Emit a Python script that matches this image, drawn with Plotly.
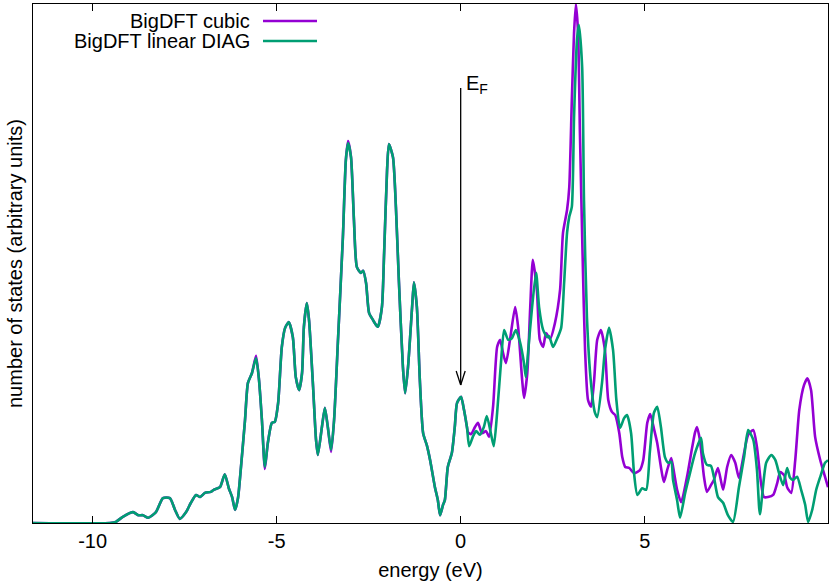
import plotly.graph_objects as go

# Shared low-energy part (both curves coincide), energy in eV, DOS in arbitrary units
energy_common = [-11.62, -9.53, -9.37, -9.18, -8.90, -8.76, -8.63, -8.49, -8.28, -8.09, -7.90, -7.76,
                 -7.63, -7.46, -7.33, -7.19, -7.08, -6.95, -6.79, -6.71, -6.54, -6.41, -6.30, -6.21,
                 -6.13, -6.05, -6.00, -5.86, -5.78, -5.67, -5.56, -5.48, -5.40, -5.32, -5.24, -5.13,
                 -5.05, -4.96, -4.86, -4.77, -4.67, -4.56, -4.48, -4.39, -4.31, -4.26, -4.18, -4.12,
                 -4.01, -3.93, -3.88, -3.77, -3.69, -3.61, -3.52, -3.44, -3.33, -3.20, -3.12, -3.06,
                 -2.98, -2.90, -2.82, -2.71, -2.65, -2.57, -2.49, -2.38, -2.33, -2.25, -2.14, -2.08,
                 -2.00, -1.95, -1.84, -1.76, -1.68, -1.57, -1.51, -1.43, -1.32, -1.27, -1.19, -1.11,
                 -1.02, -0.92, -0.83, -0.70, -0.62, -0.56, -0.48, -0.43, -0.35, -0.24, -0.16, -0.10,
                 0.01, 0.09, 0.17]
dos_common = [0.0, 0.0, 0.002, 0.012, 0.021, 0.015, 0.015, 0.010, 0.021, 0.048, 0.048, 0.025,
              0.008, 0.021, 0.039, 0.054, 0.050, 0.058, 0.060, 0.064, 0.069, 0.094, 0.067, 0.050,
              0.025, 0.048, 0.083, 0.198, 0.270, 0.289, 0.318, 0.276, 0.198, 0.108, 0.154, 0.193,
              0.195, 0.231, 0.339, 0.376, 0.387, 0.358, 0.281, 0.256, 0.289, 0.378, 0.424, 0.391,
              0.262, 0.160, 0.131, 0.185, 0.222, 0.185, 0.141, 0.198, 0.358, 0.551, 0.699, 0.732,
              0.705, 0.584, 0.493, 0.482, 0.486, 0.462, 0.405, 0.391, 0.385, 0.378, 0.416, 0.520,
              0.680, 0.730, 0.705, 0.609, 0.468, 0.301, 0.250, 0.301, 0.416, 0.464, 0.416, 0.276,
              0.173, 0.150, 0.121, 0.069, 0.044, 0.015, 0.035, 0.044, 0.108, 0.135, 0.185, 0.231,
              0.243, 0.218, 0.185]

# BigDFT cubic (above 0.17 eV)
energy_cubic_hi = [0.20, 0.28, 0.39, 0.47, 0.58, 0.69, 0.77, 0.88, 0.99, 1.07, 1.15, 1.23, 1.34, 1.48,
                   1.56, 1.67, 1.72, 1.81, 1.89, 1.96, 2.07, 2.15, 2.24, 2.32, 2.43, 2.56, 2.70, 2.78,
                   2.89, 2.95, 3.02, 3.08, 3.13, 3.19, 3.24, 3.32, 3.38, 3.46, 3.54, 3.62, 3.71, 3.81,
                   3.92, 4.01, 4.11, 4.20, 4.31, 4.39, 4.47, 4.58, 4.71, 4.87, 4.96, 5.07, 5.15, 5.26,
                   5.34, 5.44, 5.52, 5.61, 5.72, 5.80, 5.88, 5.99, 6.15, 6.29, 6.37, 6.42, 6.50, 6.61,
                   6.69, 6.80, 6.88, 6.99, 7.13, 7.24, 7.35, 7.46, 7.56, 7.70, 7.81, 7.95, 8.05, 8.16,
                   8.24, 8.35, 8.49, 8.60, 8.68, 8.79, 8.87, 8.98, 9.09, 9.20, 9.33, 9.42, 9.52, 9.63,
                   9.77, 9.90, 9.98]
dos_cubic_hi = [0.175, 0.171, 0.185, 0.193, 0.173, 0.177, 0.166, 0.224, 0.339, 0.353, 0.328, 0.308,
                0.353, 0.416, 0.378, 0.276, 0.241, 0.289, 0.416, 0.507, 0.449, 0.353, 0.339, 0.366,
                0.355, 0.385, 0.449, 0.559, 0.603, 0.647, 0.815, 0.944, 1.000, 0.944, 0.751, 0.493,
                0.333, 0.237, 0.224, 0.270, 0.353, 0.372, 0.333, 0.237, 0.214, 0.208, 0.173, 0.127,
                0.108, 0.106, 0.096, 0.102, 0.121, 0.193, 0.210, 0.179, 0.154, 0.108, 0.079, 0.102,
                0.125, 0.096, 0.064, 0.040, 0.089, 0.146, 0.175, 0.185, 0.160, 0.089, 0.060, 0.073,
                0.083, 0.106, 0.064, 0.108, 0.131, 0.116, 0.087, 0.135, 0.170, 0.179, 0.146, 0.077,
                0.050, 0.050, 0.054, 0.077, 0.098, 0.092, 0.069, 0.058, 0.121, 0.218, 0.266, 0.279,
                0.256, 0.166, 0.121, 0.089, 0.069]

# BigDFT linear DIAG (above 0.17 eV)
energy_linear_hi = [0.23, 0.33, 0.42, 0.52, 0.63, 0.71, 0.82, 0.90, 0.99, 1.10, 1.18, 1.29, 1.39, 1.50,
                    1.61, 1.72, 1.77, 1.83, 1.94, 2.05, 2.13, 2.24, 2.35, 2.40, 2.51, 2.62, 2.73, 2.81,
                    2.89, 2.95, 3.02, 3.08, 3.16, 3.21, 3.30, 3.35, 3.43, 3.54, 3.65, 3.71, 3.84, 3.92,
                    4.03, 4.14, 4.23, 4.33, 4.44, 4.52, 4.63, 4.71, 4.80, 4.93, 5.04, 5.14, 5.25, 5.34,
                    5.44, 5.55, 5.64, 5.72, 5.77, 5.88, 5.96, 6.10, 6.23, 6.37, 6.53, 6.58, 6.69, 6.80,
                    6.88, 6.99, 7.13, 7.26, 7.40, 7.56, 7.70, 7.81, 7.95, 8.05, 8.13, 8.30, 8.44, 8.55,
                    8.65, 8.76, 8.87, 8.95, 9.03, 9.14, 9.25, 9.36, 9.44, 9.55, 9.66, 9.77, 9.90, 9.98]
dos_linear_hi = [0.148, 0.166, 0.177, 0.170, 0.185, 0.206, 0.173, 0.148, 0.212, 0.314, 0.372, 0.353,
                 0.356, 0.372, 0.349, 0.308, 0.281, 0.328, 0.416, 0.482, 0.416, 0.372, 0.358, 0.360,
                 0.339, 0.355, 0.376, 0.462, 0.559, 0.590, 0.609, 0.782, 0.931, 0.960, 0.879, 0.622,
                 0.397, 0.270, 0.212, 0.204, 0.270, 0.333, 0.376, 0.333, 0.237, 0.183, 0.202, 0.208,
                 0.173, 0.096, 0.054, 0.067, 0.064, 0.137, 0.212, 0.224, 0.185, 0.127, 0.116, 0.118,
                 0.083, 0.044, 0.010, 0.058, 0.096, 0.135, 0.164, 0.135, 0.112, 0.110, 0.089, 0.050,
                 0.039, 0.015, 0.002, 0.069, 0.127, 0.179, 0.160, 0.102, 0.017, 0.116, 0.131, 0.121,
                 0.096, 0.073, 0.106, 0.087, 0.083, 0.089, 0.064, 0.035, 0.002, 0.025, 0.064, 0.089,
                 0.116, 0.121]

series_names = ["BigDFT cubic", "BigDFT linear DIAG"]
series_colors = ["#9400D3", "#009E73"]
xtick_vals = [-10, -5, 0, 5]
fermi_energy = 0.0

# small differences of the cubic curve in the shared region (slightly higher peaks)
cubic_tweaks = {-5.56: 0.322, -5.32: 0.104, -3.52: 0.137, -3.06: 0.736}
dos_common_cubic = [cubic_tweaks.get(e, d) for e, d in zip(energy_common, dos_common)]

energy_cubic = energy_common + energy_cubic_hi
dos_cubic = dos_common_cubic + dos_cubic_hi
energy_linear = energy_common + energy_linear_hi
dos_linear = dos_common + dos_linear_hi

FONT = "Liberation Sans, Arial, sans-serif"
FS = 20
X_RANGE = [-11.62, 9.98]
Y_RANGE = [0, 1.0]

fig = go.Figure()
for xs, ys, name, col in [(energy_cubic, dos_cubic, series_names[0], series_colors[0]),
                          (energy_linear, dos_linear, series_names[1], series_colors[1])]:
    fig.add_trace(go.Scatter(x=xs, y=ys, mode="lines", name=name,
                             line=dict(color=col, width=2.6, shape="spline", smoothing=0.6),
                             showlegend=False))

W, H = 830, 584
ml, mr, mt, mb = 33, 2, 4, 61
pw = W - ml - mr
ph = H - mt - mb
fig.update_layout(
    width=W, height=H,
    margin=dict(l=ml, r=mr, t=mt, b=mb, pad=0),
    paper_bgcolor="white", plot_bgcolor="white",
    font=dict(family=FONT, size=FS, color="black"),
    xaxis=dict(range=X_RANGE, tickvals=xtick_vals, ticktext=[str(v) for v in xtick_vals],
               ticks="inside", ticklen=7, tickwidth=1, tickcolor="black",
               showline=True, linecolor="black", linewidth=1, mirror="ticks",
               showgrid=False, zeroline=False,
               title=dict(text="energy (eV)", standoff=11, font=dict(size=FS)),
               tickfont=dict(size=FS)),
    yaxis=dict(range=Y_RANGE, showticklabels=False, ticks="",
               showline=True, linecolor="black", linewidth=1, mirror=True,
               showgrid=False, zeroline=False,
               title=dict(text="number of states (arbitrary units)", standoff=4, font=dict(size=FS))),
)

# Fermi level arrow (shaft + open V head), head size given in pixels
tip_y, tail_y = 0.266, 0.838
head_dx = 4.5 * (X_RANGE[1] - X_RANGE[0]) / pw
head_dy = 14 * (Y_RANGE[1] - Y_RANGE[0]) / ph
arrow_style = dict(color="black", width=1.3)
fig.add_shape(type="line", xref="x", yref="y", x0=fermi_energy, x1=fermi_energy,
              y0=tail_y, y1=tip_y, line=arrow_style)
for sgn in (-1, 1):
    fig.add_shape(type="line", xref="x", yref="y", x0=fermi_energy, y0=tip_y,
                  x1=fermi_energy + sgn * head_dx, y1=tip_y + head_dy, line=arrow_style)
fig.add_annotation(x=fermi_energy, y=0.872, xref="x", yref="y", xanchor="left", yanchor="top",
                   xshift=3, showarrow=False, text="E<sub>F</sub>", font=dict(size=FS))

# gnuplot-style key (text then sample line)
key_text_right = (252 - ml) / pw
key_line = ((263 - ml) / pw, (317 - ml) / pw)
key_rows = [(H - mb - 21) / ph, (H - mb - 41) / ph]
for name, col, yy in zip(series_names, series_colors, key_rows):
    fig.add_annotation(x=key_text_right, y=yy, xref="paper", yref="paper", xanchor="right",
                       yanchor="middle", showarrow=False, text=name, font=dict(size=FS))
    fig.add_shape(type="line", xref="paper", yref="paper", x0=key_line[0], x1=key_line[1],
                  y0=yy, y1=yy, line=dict(color=col, width=2.6))

fig.write_html("out.html", config={"displayModeBar": False},
               post_script="document.body.style.margin='0';document.body.style.padding='0';"
                           "document.documentElement.style.overflow='hidden';")
